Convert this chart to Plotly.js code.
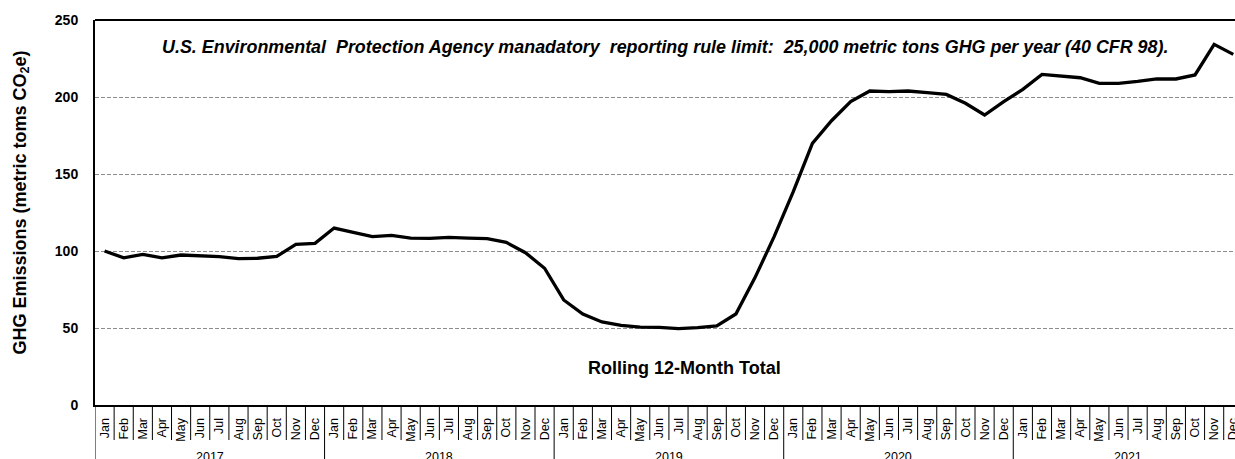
<!DOCTYPE html>
<html>
<head>
<meta charset="utf-8">
<script src="https://cdn.plot.ly/plotly-3.0.1.min.js"></script>
<style>html,body{margin:0;padding:0;overflow:hidden;background:#fff}#chart{width:1235px;height:459px}</style>
</head>
<body>
<div id="chart"></div>
<script>
const years = [2017, 2018, 2019, 2020, 2021];
const months = ['Jan','Feb','Mar','Apr','May','Jun','Jul','Aug','Sep','Oct','Nov','Dec'];
const emissions2017 = [100, 95.6, 97.8, 95.6, 97.4, 97, 96.3, 95, 95.3, 96.5, 104.3, 105];
const emissions2018 = [114.9, 112.1, 109.3, 110.2, 108.4, 108.2, 108.9, 108.4, 108, 105.6, 98.9, 88.8];
const emissions2019 = [68.2, 59.1, 53.9, 51.7, 50.6, 50.4, 49.6, 50.2, 51.3, 59.1, 82.7, 109.3];
const emissions2020 = [138.5, 169.9, 184.6, 197, 203.9, 203.5, 203.9, 202.8, 201.7, 195.9, 188.3, 197];
const emissions2021 = [205, 214.7, 213.6, 212.5, 208.9, 208.9, 210.1, 211.7, 211.7, 214.3, 234.2, 227.7];
const yTicks = [0, 50, 100, 150, 200, 250];
const mainNote = 'U.S. Environmental&nbsp; Protection Agency manadatory&nbsp; reporting rule limit:&nbsp; 25,000 metric tons GHG per year (40 CFR 98).';
const subNote = 'Rolling 12-Month Total';
const yTitle = 'GHG Emissions (metric toms CO<sub>2</sub>e)';

const allValues = [emissions2017, emissions2018, emissions2019, emissions2020, emissions2021].flat();
const xCats = [];
const xText = [];
years.forEach(y => months.forEach(m => { xCats.push(m + ' ' + y); xText.push(m); }));

const FONT = 'Liberation Sans, Arial, sans-serif';
const plotH = 385;

const shapes = [];
for (let i = 0; i <= xCats.length; i++) {
  const isYear = (i % 12 === 0);
  shapes.push({
    type: 'line', xref: 'x', yref: 'paper',
    x0: i - 0.5, x1: i - 0.5, y0: 0, y1: isYear ? -56 / plotH : -35 / plotH,
    line: {color: '#000', width: 1}
  });
}
shapes.push({type: 'line', xref: 'paper', yref: 'paper', x0: 0, x1: 1, y0: 1, y1: 1, line: {color: '#000', width: 2}});

const annotations = years.map((y, k) => ({
  x: k * 12 + 5.5, xref: 'x', y: 0, yref: 'paper', yshift: -52,
  text: String(y), showarrow: false, xanchor: 'center', yanchor: 'middle',
  font: {family: FONT, size: 12.5, color: '#000'}
}));
annotations.push({
  x: 0, xref: 'paper', xshift: -74, y: 0.5, yref: 'paper', yshift: 10,
  text: '<b>' + yTitle + '</b>', textangle: -90, showarrow: false,
  xanchor: 'center', yanchor: 'middle', font: {family: FONT, size: 18, color: '#000'}
});
annotations.push({
  x: (665 - 95) / 1140, xref: 'paper', y: (405 - 47) / plotH, yref: 'paper',
  text: '<b><i>' + mainNote + '</i></b>', showarrow: false,
  xanchor: 'center', yanchor: 'middle', font: {family: FONT, size: 17.9, color: '#000'}
});
annotations.push({
  x: (684 - 95) / 1140, xref: 'paper', y: (405 - 368) / plotH, yref: 'paper',
  text: '<b>' + subNote + '</b>', showarrow: false,
  xanchor: 'center', yanchor: 'middle', font: {family: FONT, size: 18, color: '#000'}
});

const trace = {
  type: 'scatter', mode: 'lines', x: xCats, y: allValues,
  line: {color: '#000', width: 3.3}, hoverinfo: 'skip'
};

const layout = {
  width: 1235, height: 459,
  margin: {l: 95, r: 0, t: 20, b: 54},
  paper_bgcolor: '#fff', plot_bgcolor: '#fff',
  showlegend: false,
  font: {family: FONT, color: '#000'},
  xaxis: {
    type: 'category', range: [-0.5, 59.09],
    tickvals: xCats, ticktext: xText, tickangle: -90,
    tickfont: {family: FONT, size: 12.5, color: '#000'},
    ticks: '', ticklabelstandoff: 6,
    showgrid: false, zeroline: false,
    showline: true, linecolor: '#000', linewidth: 2
  },
  yaxis: {
    range: [0, 250], tickvals: yTicks, ticks: '',
    tickfont: {family: FONT, size: 14, color: '#000', weight: 'bold'},
    ticklabelstandoff: 12,
    showgrid: true, gridcolor: '#8c8c8c', gridwidth: 1, griddash: '4px,2px',
    zeroline: false, showline: true, linecolor: '#000', linewidth: 2
  },
  shapes: shapes,
  annotations: annotations
};

Plotly.newPlot('chart', [trace], layout, {staticPlot: true, displayModeBar: false});
</script>
</body>
</html>
